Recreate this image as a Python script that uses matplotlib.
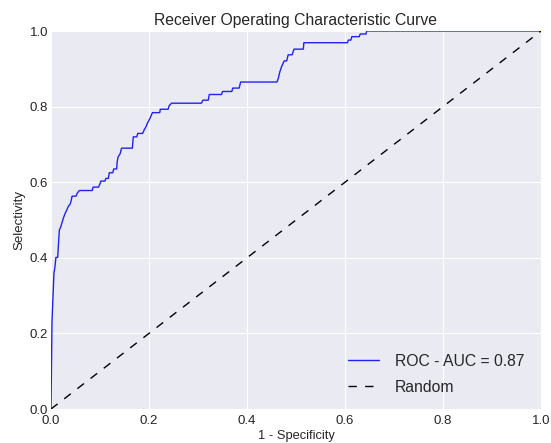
import numpy as np
import matplotlib
matplotlib.use('Agg')
import matplotlib.pyplot as plt

# ROC curve corners
fpr = [0.0, 0.002, 0.006, 0.008, 0.010, 0.0136, 0.017, 0.020, 0.025, 0.029,
       0.032, 0.035, 0.039, 0.041, 0.043, 0.051, 0.054, 0.058, 0.084, 0.086,
       0.097, 0.100, 0.102, 0.110, 0.112, 0.117, 0.119, 0.126, 0.128, 0.134,
       0.135, 0.137, 0.141, 0.144, 0.166, 0.168, 0.175, 0.177, 0.187, 0.190,
       0.194, 0.197, 0.201, 0.204, 0.207, 0.222, 0.223, 0.239, 0.241, 0.246,
       0.307, 0.310, 0.321, 0.323, 0.348, 0.350, 0.369, 0.371, 0.384, 0.387,
       0.461, 0.464, 0.467, 0.471, 0.476, 0.481, 0.484, 0.492, 0.496, 0.515,
       0.516, 0.605, 0.607, 0.612, 0.614, 0.629, 0.631, 0.643, 0.644, 1.0]
tpr = [0.0, 0.23, 0.359, 0.375, 0.401, 0.401, 0.473, 0.482, 0.504, 0.518,
       0.526, 0.535, 0.542, 0.550, 0.563, 0.563, 0.572, 0.578, 0.578, 0.587,
       0.587, 0.596, 0.603, 0.603, 0.610, 0.610, 0.625, 0.625, 0.635, 0.635,
       0.654, 0.667, 0.675, 0.690, 0.690, 0.720, 0.720, 0.729, 0.729, 0.738,
       0.747, 0.757, 0.766, 0.775, 0.784, 0.784, 0.793, 0.793, 0.802, 0.809,
       0.809, 0.817, 0.817, 0.832, 0.832, 0.840, 0.840, 0.849, 0.849, 0.865,
       0.865, 0.875, 0.892, 0.907, 0.921, 0.921, 0.937, 0.937, 0.952, 0.952,
       0.969, 0.969, 0.976, 0.976, 0.985, 0.985, 0.992, 0.992, 1.0, 1.0]
auc = 0.87

plt.style.use('seaborn-v0_8-darkgrid')
plt.rcParams['font.family'] = ['Liberation Sans', 'DejaVu Sans']

fig = plt.figure(figsize=(5.51, 4.43), dpi=100)
ax = fig.add_axes([51/551, 34/443, 490/551, 378/443])

ax.plot(fpr, tpr, color='#2222ee', lw=1, label='ROC - AUC = %.2f' % auc)
ax.plot([0, 1], [0, 1], color='k', lw=1, ls=(0, (6, 6)), label='Random')

ax.set_xlim(0, 1)
ax.set_ylim(0, 1)
ax.set_xticks(np.arange(0, 1.01, 0.2))
ax.set_yticks(np.arange(0, 1.01, 0.2))
ax.tick_params(labelsize=9.5, colors='#262626')
ax.tick_params(axis='x', pad=4.5)
ax.tick_params(axis='y', pad=2)
ax.set_xlabel('1 - Specificity', fontsize=9.3, labelpad=2)
ax.set_ylabel('Selectivity', fontsize=9.5, labelpad=3)
ax.set_title('Receiver Operating Characteristic Curve', fontsize=11.3, pad=4)
ax.legend(loc='lower right', fontsize=11.3, frameon=False, labelspacing=0.7,
          handletextpad=1.0, bbox_to_anchor=(0.995, 0.0))

fig.savefig('out.png', dpi=100)
